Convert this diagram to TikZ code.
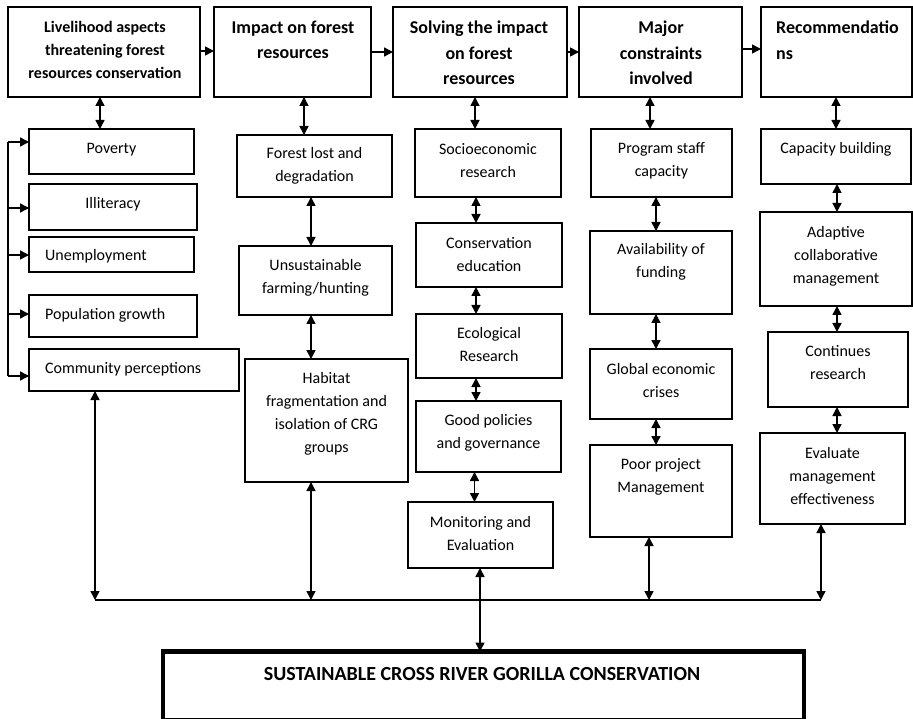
\documentclass[tikz,border=0pt]{standalone}
\usepackage{fontspec}
\setmainfont{Carlito}
\usetikzlibrary{arrows.meta}
\tikzset{
  box/.style={draw, line width=1.3pt, rectangle, inner sep=0pt, outer sep=0pt},
  hdr/.style={font=\bfseries\fontsize{18}{25.5}\selectfont, align=center, inner sep=0pt, yshift=-0.8pt},
  hdrs/.style={font=\bfseries\fontsize{16}{23}\selectfont, align=center, inner sep=0pt, yshift=-1.5pt},
  txt/.style={font=\fontsize{16}{23}\selectfont, align=center, inner sep=0pt, yshift=-1.5pt},
  dbl/.style={line width=1.5pt, {Triangle[length=9pt,width=9pt]}-{Triangle[length=9pt,width=9pt]}},
  arr/.style={line width=1.5pt, -{Triangle[length=9pt,width=9pt]}},
  bigbox/.style={draw, line width=4.5pt, rectangle, inner sep=0pt, outer sep=0pt}
}
\newcommand{\bx}[5]{\node[box, minimum width={(#4-#2)*1pt}, minimum height={(#5-#3)*1pt}] (#1) at ({(#2+#4)/2},{(#3+#5)/2}) {};}
\begin{document}
\begin{tikzpicture}[x=1pt,y=-1pt]
\useasboundingbox (0,0) rectangle (913,719);
\clip (0,0) rectangle (913,719);
% headers
\bx{h1}{8}{7}{200}{97}
\bx{h2}{214}{7}{371}{97}
\bx{h3}{393}{7}{567}{97}
\bx{h4}{579}{7}{742}{97}
\bx{h5}{761}{7}{912}{97}
\node[hdrs] (h1t) at (105,48) {Livelihood aspects\\threatening forest\\resources conservation};
\node[hdr] (h2t) at (293,39) {Impact on forest\\resources};
\node[hdr] (h3t) at (479,52) {Solving the impact\\on forest\\resources};
\node[hdr] (h4t) at (661,52) {Major\\constraints\\involved};
\node[hdr, align=left, anchor=west] (h5t) at (776,39.5) {Recommendatio\\ns};
% column 1
\bx{pov}{29}{129}{194}{174}
\bx{ill}{29}{184}{197}{230}
\bx{une}{29}{237}{194}{272}
\bx{pop}{29}{295}{197}{337}
\bx{com}{29}{349}{239}{391}
\node[txt] (povt) at (111.5,148) {Poverty};
\node[txt] (illt) at (113,203) {Illiteracy};
\node[txt, anchor=west] (unet) at (45,255) {Unemployment};
\node[txt, anchor=west] (popt) at (45,314) {Population growth};
\node[txt, anchor=west] (comt) at (45,368) {Community perceptions};
% column 2
\bx{fol}{237}{135}{392}{197}
\bx{uns}{239}{246}{392}{315}
\bx{hab}{245}{359}{408}{482}
\node[txt] (folt) at (314.5,164.5) {Forest lost and\\degradation};
\node[txt] (unst) at (315.5,276) {Unsustainable\\farming/hunting};
\node[txt] (habt) at (326.5,412) {Habitat\\fragmentation and\\isolation of CRG\\groups};
% column 3
\bx{soc}{415}{129}{561}{197}
\bx{ced}{416}{223}{562}{287}
\bx{eco}{416}{314}{562}{378}
\bx{gpo}{416}{401}{561}{472}
\bx{mon}{408}{502}{553}{568}
\node[txt] (soct) at (488,159.5) {Socioeconomic\\research};
\node[txt] (cedt) at (489,253.5) {Conservation\\education};
\node[txt] (ecot) at (489,343.5) {Ecological\\Research};
\node[txt] (gpot) at (488.5,431.5) {Good policies\\and governance};
\node[txt] (mont) at (480.5,532.5) {Monitoring and\\Evaluation};
% column 4
\bx{pro}{591}{129}{732}{197}
\bx{ava}{590}{231}{732}{314}
\bx{glo}{590}{349}{732}{419}
\bx{poo}{590}{445}{732}{537}
\node[txt] (prot) at (661.5,159.5) {Program staff\\capacity};
\node[txt] (avat) at (661,260) {Availability of\\funding};
\node[txt] (glot) at (661,379.5) {Global economic\\crises};
\node[txt] (poot) at (661,475.5) {Poor project\\Management};
% column 5
\bx{cap}{761}{129}{911}{184}
\bx{ada}{760}{212}{912}{306}
\bx{con}{768}{332}{908}{407}
\bx{eva}{760}{433}{905}{524}
\node[txt] (capt) at (836,148) {Capacity building};
\node[txt] (adat) at (836,254.5) {Adaptive\\collaborative\\management};
\node[txt] (cont) at (838,361.5) {Continues\\research};
\node[txt] (evat) at (832.5,474.5) {Evaluate\\management\\effectiveness};
% final box
\node[bigbox, minimum width=641pt, minimum height=69pt] (fin) at (483.5,686) {};
\node[font=\bfseries\fontsize{20}{24}\selectfont, inner sep=0pt] (fint) at (482,674) {SUSTAINABLE CROSS RIVER GORILLA CONSERVATION};
% helper coordinates
\coordinate (a1) at (100,0);
\coordinate (a2) at (304,0);
\coordinate (a3) at (475,0);
\coordinate (a4) at (650,0);
\coordinate (a5) at (836,0);
\coordinate (c2) at (311,0);
\coordinate (c3) at (476,0);
\coordinate (c3b) at (474.5,0);
\coordinate (c4) at (656,0);
\coordinate (c5) at (837,0);
\coordinate (r1) at (0,51);
\coordinate (r2) at (0,52);
\coordinate (r4) at (0,49);
\coordinate (b1) at (95,600);
\coordinate (b2) at (311,600);
\coordinate (b3) at (480,600);
\coordinate (b4) at (649,600);
\coordinate (b5) at (821,600);
\coordinate (l1) at (8,142);
\coordinate (l2) at (8,208);
\coordinate (l3) at (8,255);
\coordinate (l4) at (8,314);
\coordinate (l5) at (8,376);
% header arrows
\draw[arr] (h1.east |- r1) -- (h2.west |- r1);
\draw[arr] (h2.east |- r2) -- (h3.west |- r2);
\draw[arr] (h3.east |- r2) -- (h4.west |- r2);
\draw[arr] (h4.east |- r4) -- (h5.west |- r4);
% header to first children
\draw[dbl] (h1.south -| a1) -- (pov.north -| a1);
\draw[dbl] (h2.south -| a2) -- (fol.north -| a2);
\draw[dbl] (h3.south -| a3) -- (soc.north -| a3);
\draw[dbl] (h4.south -| a4) -- (pro.north -| a4);
\draw[dbl] (h5.south -| a5) -- (cap.north -| a5);
% left bracket
\draw[line width=1.5pt] (l1) -- (l5);
\draw[arr] (l1) -- (pov.west |- l1);
\draw[arr] (l2) -- (ill.west |- l2);
\draw[arr] (l3) -- (une.west |- l3);
\draw[arr] (l4) -- (pop.west |- l4);
\draw[arr] (l5) -- (com.west |- l5);
% column chains
\draw[dbl] (fol.south -| c2) -- (uns.north -| c2);
\draw[dbl] (uns.south -| c2) -- (hab.north -| c2);
\draw[dbl] (soc.south -| c3) -- (ced.north -| c3);
\draw[dbl] (ced.south -| c3) -- (eco.north -| c3);
\draw[dbl] (eco.south -| c3) -- (gpo.north -| c3);
\draw[dbl] (gpo.south -| c3b) -- (mon.north -| c3b);
\draw[dbl] (pro.south -| c4) -- (ava.north -| c4);
\draw[dbl] (ava.south -| c4) -- (glo.north -| c4);
\draw[dbl] (glo.south -| c4) -- (poo.north -| c4);
\draw[dbl] (cap.south -| c5) -- (ada.north -| c5);
\draw[dbl] (ada.south -| c5) -- (con.north -| c5);
\draw[dbl] (con.south -| c5) -- (eva.north -| c5);
% bus
\draw[line width=1.5pt] (b1) -- (b5);
\draw[dbl] (com.south -| b1) -- (b1);
\draw[dbl] (hab.south -| b2) -- (b2);
\draw[dbl] (poo.south -| b4) -- (b4);
\draw[dbl] (eva.south -| b5) -- (b5);
\draw[dbl] (mon.south -| b3) -- (fin.north -| b3);
\end{tikzpicture}
\end{document}
